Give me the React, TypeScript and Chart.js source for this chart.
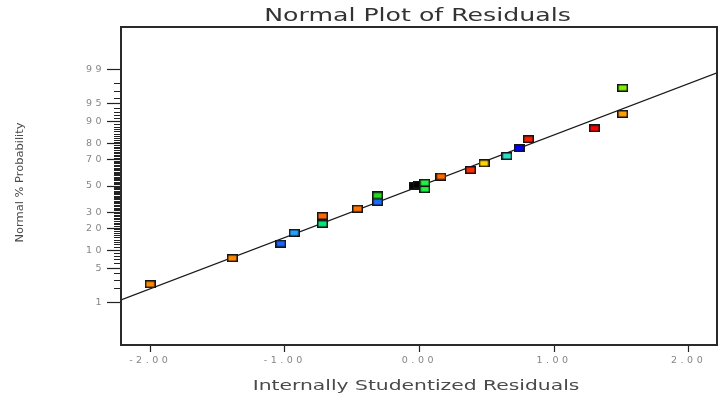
import React, { useEffect, useRef } from 'react';
import { Chart, registerables } from 'chart.js';

Chart.register(...registerables);

// ---- data ----
const residuals = [-2.0, -1.39, -1.03, -0.93, -0.72, -0.72, -0.46, -0.31, -0.31, 0.04, 0.04, 0.16, 0.38, 0.48, 0.65, 0.74, 0.81, 1.3, 1.51, 1.51];
const probabilities = [2.5, 7.5, 12.5, 17.5, 22.5, 27.5, 32.5, 37.5, 42.5, 47.5, 52.5, 57.5, 62.5, 67.5, 72.5, 77.5, 82.5, 87.5, 92.5, 97.5];
const pointColors = [
  '#ff8a00', '#ff8800', '#1a66ff', '#22a0ff', '#00e878', '#ff6600', '#ff7400', '#1a6aff', '#22dd22', '#22ee44',
  '#22ee44', '#ff6a00', '#ff2a00', '#ffd400', '#2ae0c8', '#0000ff', '#ff1a00', '#ff0000', '#ffa000', '#7ef000',
];
const overlapResiduals = [-0.04, -0.01];
const overlapProbabilities = [50, 51];
const fitLineResiduals = [-2.217, 2.211];
const fitLineScores = [-2.275, 2.261];

const majorTickPercents = [1, 5, 10, 20, 30, 50, 70, 80, 90, 95, 99];
const majorTickLabels = ['1', '5', '10', '20', '30', '50', '70', '80', '90', '95', '99'];
const minorTickPercents = [
  2, 3, 4, 6, 7, 8, 9,
  11, 12, 13, 14, 15, 16, 17, 18, 19,
  21, 22, 23, 24, 25, 26, 27, 28, 29,
  31, 32, 33, 34, 35, 36, 37, 38, 39, 40, 41, 42, 43, 44, 45, 46, 47, 48, 49,
  51, 52, 53, 54, 55, 56, 57, 58, 59, 60, 61, 62, 63, 64, 65, 66, 67, 68, 69,
  71, 72, 73, 74, 75, 76, 77, 78, 79,
  81, 82, 83, 84, 85, 86, 87, 88, 89,
  91, 92, 93, 94, 96, 97, 98,
];
const xTickValues = [-2, -1, 0, 1, 2];
const xTickLabels = ['-2.00', '-1.00', '0.00', '1.00', '2.00'];

const xMin = -2.217;
const xMax = 2.211;
const yMin = -3.174;
const yMax = 3.174;

// inverse of the standard normal CDF (Acklam) — maps % probability onto the normal-probability axis
function probit(p: number): number {
  const a = [-3.969683028665376e1, 2.209460984245205e2, -2.759285104469687e2, 1.38357751867269e2, -3.066479806614716e1, 2.506628277459239];
  const b = [-5.447609879822406e1, 1.615858368580409e2, -1.556989798598866e2, 6.680131188771972e1, -1.328068155288572e1];
  const c = [-7.784894002430293e-3, -3.223964580411365e-1, -2.400758277161838, -2.549732539343734, 4.374587496640356, 2.938163982698783];
  const d = [7.784695709041462e-3, 3.224671290700398e-1, 2.445134137142996, 3.754408661907416];
  const pl = 0.02425;
  const ph = 1 - pl;
  if (p < pl) {
    const q = Math.sqrt(-2 * Math.log(p));
    return (((((c[0] * q + c[1]) * q + c[2]) * q + c[3]) * q + c[4]) * q + c[5]) / ((((d[0] * q + d[1]) * q + d[2]) * q + d[3]) * q + 1);
  }
  if (p <= ph) {
    const q = p - 0.5;
    const r = q * q;
    return ((((((a[0] * r + a[1]) * r + a[2]) * r + a[3]) * r + a[4]) * r + a[5]) * q) / (((((b[0] * r + b[1]) * r + b[2]) * r + b[3]) * r + b[4]) * r + 1);
  }
  const q = Math.sqrt(-2 * Math.log(1 - p));
  return -(((((c[0] * q + c[1]) * q + c[2]) * q + c[3]) * q + c[4]) * q + c[5]) / ((((d[0] * q + d[1]) * q + d[2]) * q + d[3]) * q + 1);
}

function makeMarker(color: string): HTMLCanvasElement {
  const cv = document.createElement('canvas');
  cv.width = 11;
  cv.height = 8;
  const g = cv.getContext('2d')!;
  g.fillStyle = '#141414';
  g.fillRect(0, 0, 11, 8);
  g.fillStyle = color;
  g.fillRect(1.5, 1.5, 8, 5);
  return cv;
}

const textPlugin = {
  id: 'dxText',
  beforeDraw(chart: any) {
    (chart.ctx as any).letterSpacing = '3.5px';
  },
  afterDraw(chart: any) {
    const ctx = chart.ctx as CanvasRenderingContext2D;
    const area = chart.chartArea;
    (ctx as any).letterSpacing = '0px';

    // plot frame
    ctx.save();
    ctx.strokeStyle = '#2a2a2a';
    ctx.lineWidth = 2;
    ctx.strokeRect(area.left, area.top, area.right - area.left, area.bottom - area.top);
    ctx.restore();

    const cx = (area.left + area.right) / 2;

    // chart title
    ctx.save();
    ctx.fillStyle = '#333333';
    ctx.font = '18px "DejaVu Sans"';
    ctx.textAlign = 'center';
    ctx.textBaseline = 'alphabetic';
    ctx.translate(cx - 1.5, 21);
    ctx.scale(1.4, 1);
    ctx.fillText('Normal Plot of Residuals', 0, 0);
    ctx.restore();

    // x title
    ctx.save();
    ctx.fillStyle = '#4a4a4a';
    ctx.font = '14px "DejaVu Sans"';
    ctx.textAlign = 'center';
    ctx.textBaseline = 'alphabetic';
    ctx.translate(cx - 3, 390);
    ctx.scale(1.45, 1);
    ctx.fillText('Internally Studentized Residuals', 0, 0);
    ctx.restore();

    // y title
    ctx.save();
    ctx.fillStyle = '#4a4a4a';
    ctx.font = '11px "DejaVu Sans"';
    ctx.textAlign = 'center';
    ctx.textBaseline = 'middle';
    ctx.translate(20.5, 182.5);
    ctx.rotate(-Math.PI / 2);
    ctx.scale(1.04, 1);
    ctx.fillText('Normal % Probability', 0, 0);
    ctx.restore();
  },
};

export default function App() {
  const ref = useRef<HTMLCanvasElement | null>(null);

  useEffect(() => {
    const canvas = ref.current;
    if (!canvas) return;

    const tickFont = { family: 'DejaVu Sans', size: 9.5 };
    const chart = new Chart(canvas, {
      type: 'scatter',
      data: {
        datasets: [
          {
            label: 'residuals',
            data: residuals.map((x, i) => ({ x, y: probit(probabilities[i] / 100) })),
            pointStyle: pointColors.map(makeMarker) as any,
            pointRadius: 5,
            pointHoverRadius: 5,
            order: 0,
          },
          {
            label: 'overlap',
            data: overlapResiduals.map((x, i) => ({ x, y: probit(overlapProbabilities[i] / 100) })),
            pointStyle: makeMarker('#000000') as any,
            pointRadius: 5,
            pointHoverRadius: 5,
            order: 1,
          },
          {
            label: 'fit',
            data: fitLineResiduals.map((x, i) => ({ x, y: fitLineScores[i] })),
            showLine: true,
            borderColor: '#1a1a1a',
            borderWidth: 1.3,
            pointRadius: 0,
            fill: false,
            order: 2,
          } as any,
        ],
      },
      options: {
        animation: false,
        responsive: false,
        events: [],
        layout: { autoPadding: false, padding: { top: 27, right: 2, bottom: 0, left: 0 } },
        plugins: {
          legend: { display: false },
          tooltip: { enabled: false },
          title: { display: false },
        },
        scales: {
          x: {
            type: 'linear',
            position: 'bottom',
            min: xMin,
            max: xMax,
            afterBuildTicks: (s: any) => {
              s.ticks = xTickValues.map((v) => ({ value: v }));
            },
            afterFit: (s: any) => {
              s.height = 55;
            },
            ticks: {
              callback: (_v: any, i: number) => xTickLabels[i],
              color: '#858585',
              font: tickFont,
              padding: 3,
              maxRotation: 0,
              autoSkip: false,
            },
            grid: { drawOnChartArea: false, drawTicks: true, tickLength: 7, tickColor: '#222', tickWidth: 1.2 },
            border: { display: false },
          },
          y: {
            type: 'linear',
            position: 'left',
            min: yMin,
            max: yMax,
            afterBuildTicks: (s: any) => {
              s.ticks = majorTickPercents.map((p) => ({ value: probit(p / 100) }));
            },
            afterFit: (s: any) => {
              s.width = 121;
            },
            ticks: {
              callback: (_v: any, i: number) => majorTickLabels[i],
              color: '#858585',
              font: tickFont,
              padding: 2,
              autoSkip: false,
            },
            grid: { drawOnChartArea: false, drawTicks: true, tickLength: 14, tickColor: '#222', tickWidth: 1.2 },
            border: { display: false },
          },
          yMinor: {
            type: 'linear',
            axis: 'y',
            position: { x: xMin },
            min: yMin,
            max: yMax,
            afterBuildTicks: (s: any) => {
              s.ticks = minorTickPercents.map((p) => ({ value: probit(p / 100) }));
            },
            afterFit: (s: any) => {
              s.width = 0;
            },
            ticks: { display: false, autoSkip: false },
            grid: { drawOnChartArea: false, drawTicks: true, tickLength: 7, tickColor: '#222', tickWidth: 1 },
            border: { display: false },
          } as any,
        },
      },
      plugins: [textPlugin],
    });

    return () => chart.destroy();
  }, []);

  return (
    <canvas
      ref={ref}
      width={719}
      height={400}
      style={{ position: 'fixed', left: 0, top: 0, width: 719, height: 400, display: 'block', background: '#ffffff' }}
    />
  );
}
